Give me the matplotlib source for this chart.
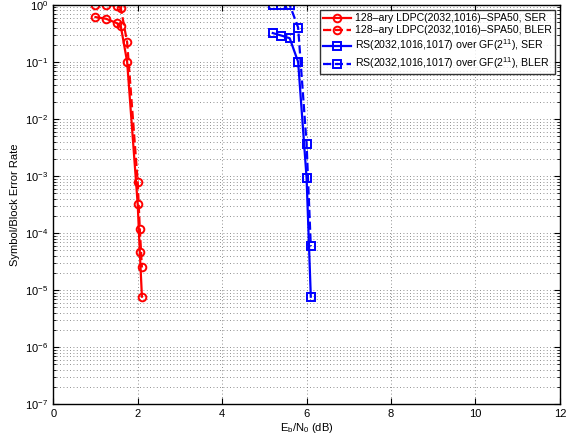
import numpy as np
import matplotlib
matplotlib.use("Agg")
import matplotlib.pyplot as plt
from matplotlib.ticker import LogLocator, NullFormatter

plt.rcParams['font.family'] = ['Liberation Sans', 'DejaVu Sans']
plt.rcParams['mathtext.fontset'] = 'custom'
plt.rcParams['mathtext.rm'] = 'Liberation Sans'
plt.rcParams['mathtext.it'] = 'Liberation Sans'

# LDPC curves
ldpc_snr = [1.0, 1.25, 1.5, 1.6, 1.75, 2.0, 2.05, 2.1]
ldpc_ser = [0.61, 0.57, 0.48, 0.42, 0.10, 3.2e-4, 4.6e-5, 7.7e-6]
ldpc_bler = [1.0, 1.0, 0.97, 0.875, 0.22, 7.9e-4, 1.17e-4, 2.5e-5]

# RS curves
rs_snr = [5.2, 5.4, 5.6, 5.8, 6.0, 6.1]
rs_ser = [0.32, 0.29, 0.26, 0.10, 9.3e-4, 7.7e-6]
rs_bler = [1.0, 1.0, 1.0, 0.40, 3.7e-3, 5.9e-5]

labels = ['128\u2013ary LDPC(2032,1016)\u2013SPA50, SER',
          '128\u2013ary LDPC(2032,1016)\u2013SPA50, BLER',
          'RS(2032,1016,1017) over GF(2$^{11}$), SER',
          'RS(2032,1016,1017) over GF(2$^{11}$), BLER']

fig = plt.figure(figsize=(5.79, 4.4), dpi=100)
ax = fig.add_axes([0.092, 0.081, 0.875, 0.908])

mk = dict(markersize=5.5, markerfacecolor='none', markeredgewidth=1.4, linewidth=1.6)
ax.semilogy(ldpc_snr, ldpc_ser, '-o', color='#ff0000', label=labels[0], **mk)
ax.semilogy(ldpc_snr, ldpc_bler, '--o', color='#ff0000', label=labels[1], **mk)
ax.semilogy(rs_snr, rs_ser, '-s', color='#0000ff', label=labels[2], **mk)
ax.semilogy(rs_snr, rs_bler, '--s', color='#0000ff', label=labels[3], **mk)

ax.set_xlim(0, 12)
ax.set_ylim(1e-7, 1)
ax.set_xticks(np.arange(0, 13, 2))
ax.yaxis.set_major_locator(LogLocator(base=10, numticks=10))
ax.yaxis.set_minor_locator(LogLocator(base=10, subs=np.arange(2, 10), numticks=20))
ax.yaxis.set_minor_formatter(NullFormatter())

# sparse dotted grid
gkw = dict(linestyle=(0, (1, 3)), color='#6a6a6a', linewidth=0.6)
ax.grid(True, which='major', **gkw)
ax.grid(True, which='minor', axis='y', **gkw)

ax.tick_params(which='both', direction='in', top=True, right=True, labelsize=8)
ax.tick_params(which='major', length=4)
ax.tick_params(which='minor', length=2)
for s in ax.spines.values():
    s.set_linewidth(1.0)

ax.set_xlabel(r'E$_\mathrm{b}$/N$_0$ (dB)', fontsize=8, labelpad=1)
ax.set_ylabel('Symbol/Block Error Rate', fontsize=8, labelpad=4)

leg = ax.legend(loc='upper right', fontsize=7.6, frameon=True, fancybox=False,
                edgecolor='black', borderaxespad=0.5, handlelength=2.7,
                numpoints=1, borderpad=0.3, labelspacing=0.2, handletextpad=0.3)
leg.get_frame().set_linewidth(1.0)

fig.savefig('out.png', dpi=100)
